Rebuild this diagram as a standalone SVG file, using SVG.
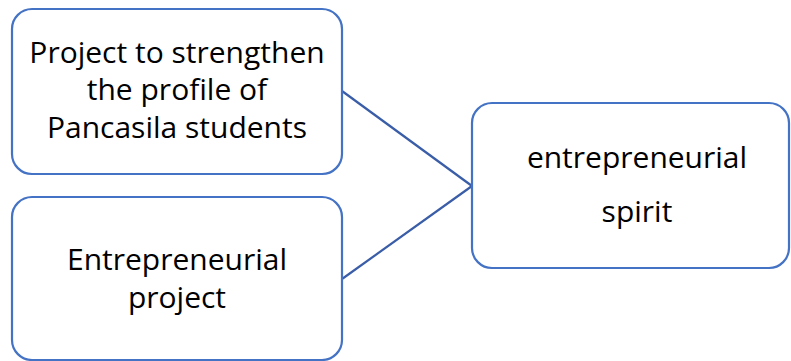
<svg xmlns="http://www.w3.org/2000/svg" width="791" height="361" viewBox="0 0 791 361">
<style>
.box{fill:#ffffff;stroke:#4472C4;stroke-width:2.2}
.t{font-family:"Open Sans","Liberation Sans",sans-serif;font-size:30px;fill:#000;text-anchor:middle}
.c{stroke:#3A5DA8;stroke-width:2.2;fill:none}
</style>
<rect width="791" height="361" fill="#ffffff"/>
<g id="connectors">
<line class="c" x1="342" y1="91" x2="472" y2="186"/>
<line class="c" x1="342" y1="279" x2="472" y2="186"/>
</g>
<g id="node-profile">
<rect class="box" x="12" y="9" width="330" height="165" rx="20"/>
<text class="t" x="177" y="63">Project to strengthen</text>
<text class="t" x="177" y="100">the profile of</text>
<text class="t" x="177" y="138">Pancasila students</text>
</g>
<g id="node-entrepreneurial-project">
<rect class="box" x="12" y="197" width="330" height="163" rx="20"/>
<text class="t" x="177" y="270">Entrepreneurial</text>
<text class="t" x="177" y="308">project</text>
</g>
<g id="node-spirit">
<rect class="box" x="472" y="103" width="317" height="165" rx="20"/>
<text class="t" x="637" y="168">entrepreneurial</text>
<text class="t" x="637" y="222">spirit</text>
</g>
</svg>
